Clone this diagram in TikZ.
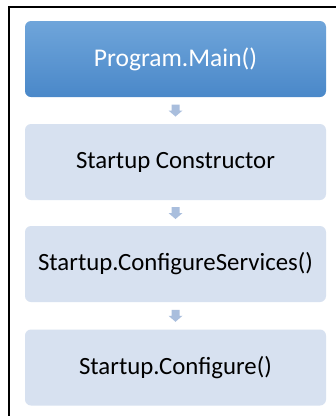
\documentclass[tikz,border=0pt]{standalone}
\usepackage{fontspec}
\setmainfont{Carlito}
\definecolor{boxlight}{HTML}{D7E1F0}
\definecolor{boxtop}{HTML}{6FA5DA}
\definecolor{boxbot}{HTML}{4A88C9}
\definecolor{arrowc}{HTML}{A9BEDD}
\tikzset{
  stepbox/.style={rounded corners=6pt, minimum width=301pt, minimum height=76pt, inner sep=0pt, font=\fontsize{24.8}{28}\selectfont, text=black, fill=boxlight},
  mainbox/.style={stepbox, fill=none, top color=boxtop, bottom color=boxbot, text=white, font=\fontsize{25.5}{28}\selectfont},
  blockarrow/.style={fill=arrowc, draw=none}
}
\begin{document}
\begin{tikzpicture}[x=1pt,y=-1pt]
\useasboundingbox (0,0) rectangle (336,416);
\fill[white] (0,0) rectangle (336,416);
\draw[line width=2pt] (9,416) -- (9,7) -- (336,7);
\node[mainbox] (main) at (175.5,59) {Program.Main()};
\node[stepbox] (ctor) at (175.5,162) {Startup Constructor};
\node[stepbox] (svc) at (175.5,264) {Startup.ConfigureServices()};
\node[stepbox] (cfg) at (175.5,367.5) {Startup.Configure()};
\foreach \a/\b in {main/ctor, ctor/svc, svc/cfg}{
  \path (\a.south) -- (\b.north) coordinate[pos=0.5] (m\a);
  \fill[blockarrow] ([shift={(-4,-6)}]m\a) -- ([shift={(4,-6)}]m\a) -- ([shift={(4,0)}]m\a) -- ([shift={(7,0)}]m\a) -- ([shift={(0,6)}]m\a) -- ([shift={(-7,0)}]m\a) -- ([shift={(-4,0)}]m\a) -- cycle;
}
\end{tikzpicture}
\end{document}
